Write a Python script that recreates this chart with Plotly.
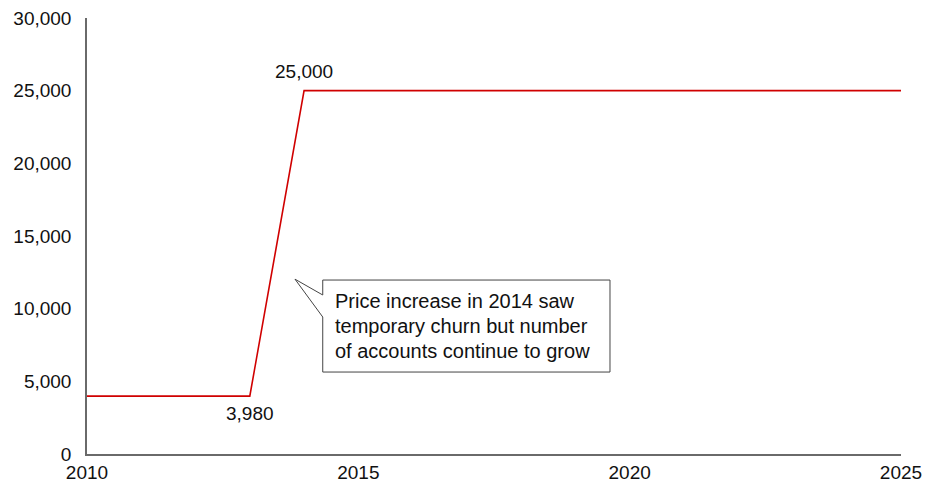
import plotly.graph_objects as go

# Number of accounts over time
years = [2010, 2013, 2014, 2025]
accounts = [3980, 3980, 25000, 25000]

# Labelled points
label_years = [2014, 2013]
label_values = [25000, 3980]

x_ticks = [2010, 2015, 2020, 2025]
y_ticks = [0, 5000, 10000, 15000, 20000, 25000, 30000]

callout_lines = ["Price increase in 2014 saw",
                 "temporary churn but number",
                 "of accounts continue to grow"]

FONT = "Liberation Sans, Arial, sans-serif"
RED = "#d00000"
AXIS = "#6a6a6a"
FS = 19

fig = go.Figure()
fig.add_trace(go.Scatter(
    x=years, y=accounts, mode="lines",
    line=dict(color=RED, width=1.6), hoverinfo="skip", showlegend=False,
))

# Value labels: above the top corner, below the bottom corner
fig.add_annotation(x=label_years[0], y=label_values[0], text=f"{label_values[0]:,}",
                   showarrow=False, yshift=19, font=dict(size=FS, color="#111"))
fig.add_annotation(x=label_years[1], y=label_values[1], text=f"{label_values[1]:,}",
                   showarrow=False, yshift=-17, font=dict(size=FS, color="#111"))

# Callout box with pointer
bx0, bx1, by0, by1 = 0.2896, 0.6425, 0.188, 0.399
tip_x, tip_y = 0.2555, 0.401
py_hi, py_lo = 0.3647, 0.3142
path = (f"M {bx0} {by1} L {bx1} {by1} L {bx1} {by0} L {bx0} {by0} "
        f"L {bx0} {py_lo} L {tip_x} {tip_y} L {bx0} {py_hi} Z")
fig.add_shape(type="path", xref="paper", yref="paper", path=path,
              line=dict(color="#444", width=1), fillcolor="white")
line_gap = 25 / 436
mid = (by0 + by1) / 2
for i, line in enumerate(callout_lines):
    fig.add_annotation(xref="paper", yref="paper", x=bx0 + 0.012,
                       y=mid + (1 - i) * line_gap,
                       xanchor="left", yanchor="middle", align="left",
                       text=line, showarrow=False,
                       font=dict(size=20, color="#111"))

fig.update_layout(
    width=925, height=483,
    margin=dict(l=87, r=24, t=18, b=29),
    paper_bgcolor="white", plot_bgcolor="white",
    font=dict(family=FONT, size=FS, color="#111"),
    xaxis=dict(range=[2010, 2025], tickvals=x_ticks, ticktext=[str(v) for v in x_ticks],
               showgrid=False, zeroline=False, showline=True, linecolor=AXIS,
               linewidth=1.5, ticks="", ticklen=0, automargin=False),
    yaxis=dict(range=[0, 30000], tickvals=y_ticks,
               ticktext=[f"{v:,}" for v in y_ticks],
               showgrid=False, zeroline=False, showline=True, linecolor=AXIS,
               linewidth=1.5, ticks="", ticklabelstandoff=10, automargin=False),
)

fig.write_html("out.html")
